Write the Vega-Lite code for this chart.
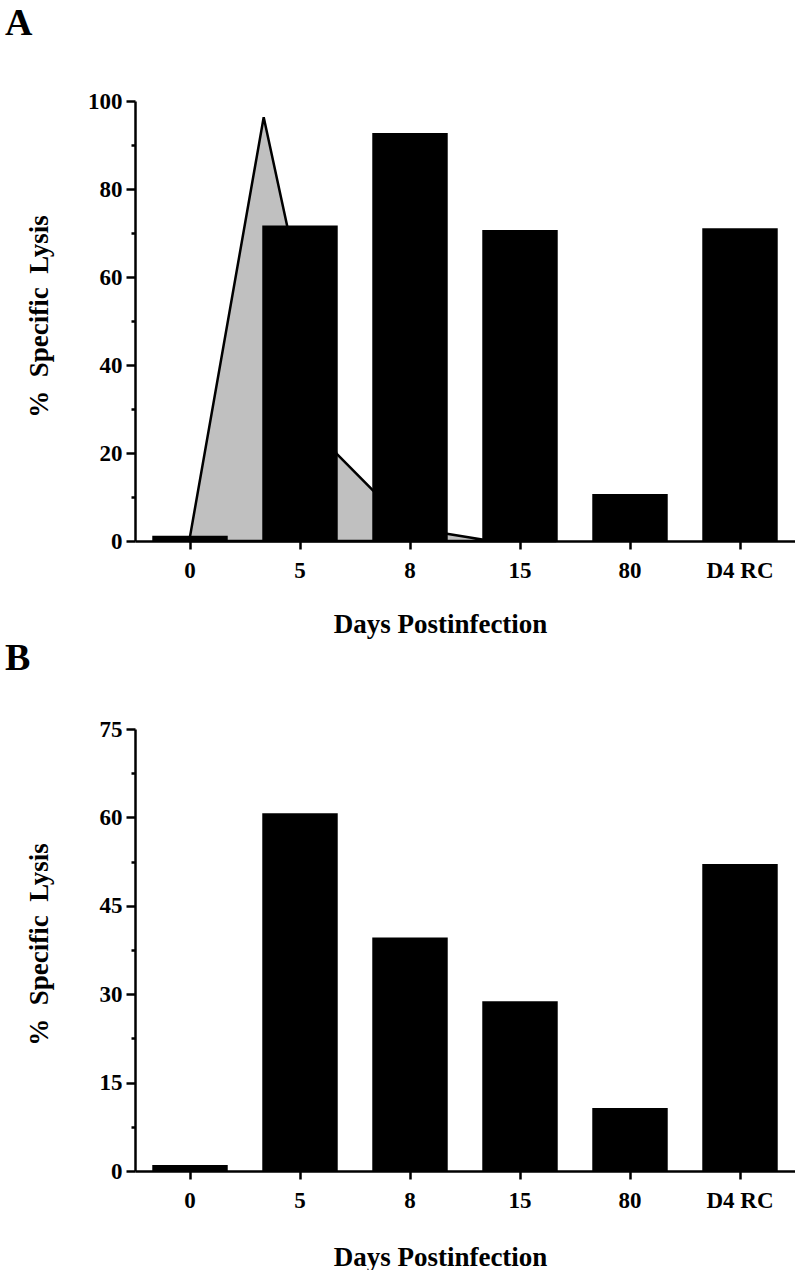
{
  "$schema": "https://vega.github.io/schema/vega-lite/v6.json",
  "background": "white",
  "padding": {"left": 5, "top": 5, "right": 0, "bottom": 0},
  "config": {
    "font": "Liberation Serif",
    "view": {"stroke": null},
    "axis": {
      "labelFont": "Liberation Serif", "labelFontWeight": "bold", "labelFontSize": 23, "labelColor": "black",
      "titleFont": "Liberation Serif", "titleFontWeight": "bold", "titleFontSize": 27, "titleColor": "black",
      "domainColor": "black", "domainWidth": 2.5, "tickColor": "black", "tickWidth": 2.5, "grid": false
    },
    "title": {"font": "Liberation Serif", "fontWeight": "bold", "fontSize": 38, "color": "black", "anchor": "start", "frame": "group", "baseline": "alphabetic"},
    "concat": {"spacing": 3}
  },
  "vconcat": [
    {
      "title": {"text": "A", "dx": -130, "offset": 47},
      "width": 660,
      "height": 440,
      "layer": [
        {
          "data": {"values": [
            {"pos": 0.5, "lysis": 1.0},
            {"pos": 1.17, "lysis": 96.3},
            {"pos": 1.83, "lysis": 19.9},
            {"pos": 2.5, "lysis": 3.0},
            {"pos": 3.17, "lysis": 0.3},
            {"pos": 3.83, "lysis": 0}
          ]},
          "mark": {"type": "area", "color": "#c0c0c0", "stroke": "black", "strokeWidth": 2.5},
          "encoding": {
            "x": {"field": "pos", "type": "quantitative", "scale": {"domain": [0, 6], "nice": false, "zero": false}, "axis": null},
            "y": {"field": "lysis", "type": "quantitative", "scale": {"domain": [0, 100], "nice": false},
              "axis": {"values": [0, 10, 20, 30, 40, 50, 60, 70, 80, 90, 100],
                "labelExpr": "datum.value % 20 === 0 ? datum.label : ''",
                "tickSize": {"condition": {"test": "datum.value % 20 === 0", "value": 9}, "value": 4},
                "labelPadding": 4,
                "title": "%\u00a0\u00a0Specific\u00a0\u00a0Lysis",
                "titleX": -88, "titleY": 215, "titleBaseline": "alphabetic", "titleAngle": -90, "titleAlign": "center"}}
          }
        },
        {
          "data": {"values": [
            {"day": "0", "lysis": 1.2},
            {"day": "5", "lysis": 71.7},
            {"day": "8", "lysis": 92.7},
            {"day": "15", "lysis": 70.7},
            {"day": "80", "lysis": 10.7},
            {"day": "D4 RC", "lysis": 71.1}
          ]},
          "mark": {"type": "bar", "color": "black", "width": {"band": 0.686}},
          "encoding": {
            "x": {"field": "day", "type": "nominal", "sort": null, "scale": {"paddingInner": 0, "paddingOuter": 0},
              "axis": {"labelAngle": 0, "tickSize": 8, "labelPadding": 10, "bandPosition": 0.5,
                "title": "Days Postinfection", "titleX": 305, "titleY": 91, "titleBaseline": "alphabetic", "titleAlign": "center"}},
            "y": {"field": "lysis", "type": "quantitative"}
          }
        }
      ],
      "resolve": {"scale": {"x": "independent"}}
    },
    {
      "title": {"text": "B", "dx": -130, "offset": 40},
      "width": 660,
      "height": 442,
      "data": {"values": [
        {"day": "0", "lysis": 1.0},
        {"day": "5", "lysis": 60.7},
        {"day": "8", "lysis": 39.6},
        {"day": "15", "lysis": 28.8},
        {"day": "80", "lysis": 10.7},
        {"day": "D4 RC", "lysis": 52.1}
      ]},
      "mark": {"type": "bar", "color": "black", "width": {"band": 0.686}},
      "encoding": {
        "x": {"field": "day", "type": "nominal", "sort": null, "scale": {"paddingInner": 0, "paddingOuter": 0},
          "axis": {"labelAngle": 0, "tickSize": 8, "labelPadding": 10, "bandPosition": 0.5,
            "title": "Days Postinfection", "titleX": 305, "titleY": 94, "titleBaseline": "alphabetic", "titleAlign": "center"}},
        "y": {"field": "lysis", "type": "quantitative", "scale": {"domain": [0, 75], "nice": false},
          "axis": {"values": [0, 7.5, 15, 22.5, 30, 37.5, 45, 52.5, 60, 67.5, 75],
            "labelExpr": "datum.value % 15 === 0 ? datum.label : ''",
            "tickSize": {"condition": {"test": "datum.value % 15 === 0", "value": 9}, "value": 4},
            "labelPadding": 4,
            "title": "%\u00a0\u00a0Specific\u00a0\u00a0Lysis",
            "titleX": -88, "titleY": 215, "titleBaseline": "alphabetic", "titleAngle": -90, "titleAlign": "center"}}
      }
    }
  ]
}
